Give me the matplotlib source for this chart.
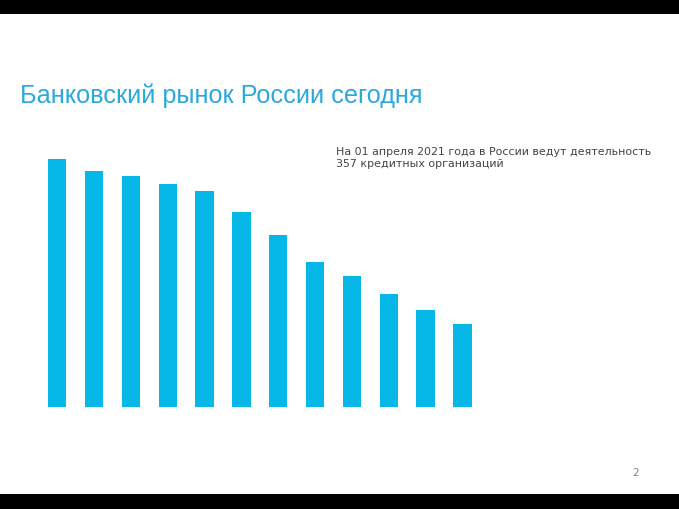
import numpy as np
import matplotlib
matplotlib.use('Agg')
import matplotlib.pyplot as plt
from matplotlib.patches import Rectangle
from matplotlib import font_manager

# number of credit organizations
years = ['2010', '2011', '2012', '2013', '2014', '2015', '2016', '2017', '2018', '2019', '2020', '2021']
banks = [1068, 1019, 997, 963, 932, 840, 741, 626, 564, 485, 419, 357]

title = "Банковский рынок России сегодня"
note = "На 01 апреля 2021 года в России ведут деятельность\n357 кредитных организаций"
page = "2"

# pick the regular (not narrow) Liberation Sans file
title_font = None
for f in font_manager.fontManager.ttflist:
    if f.name == 'Liberation Sans' and f.style == 'normal' and f.weight in (400, 'normal') \
            and 'Narrow' not in f.fname:
        title_font = font_manager.FontProperties(fname=f.fname)
        break
if title_font is None:
    title_font = font_manager.FontProperties(family='DejaVu Sans')
title_font.set_size(18.2)

W, H = 679, 509
fig = plt.figure(figsize=(W/100, H/100), dpi=100)
fig.patch.set_facecolor('white')

# black bands top and bottom
fig.patches.append(Rectangle((0, (H-14)/H), 1, 14/H, transform=fig.transFigure,
                             facecolor='black', edgecolor='none', zorder=0))
fig.patches.append(Rectangle((0, 0), 1, 15/H, transform=fig.transFigure,
                             facecolor='black', edgecolor='none', zorder=0))

ax = fig.add_axes([38.8/W, 102.3/H, 442.1/W, 247.4/H])
x = np.arange(len(banks))
ax.bar(x, banks, width=0.5, color='#05B8E8')
ax.set_xlim(-0.5, len(banks)-0.5)
ax.set_ylim(0, banks[0])
ax.axis('off')

fig.text(20.5/W, 1-96/H, title, fontproperties=title_font, color='#2BA8DC',
         va='center', ha='left')
fig.text(336.5/W, 1-158/H, note, fontsize=7.9, color='#444444',
         family='DejaVu Sans', va='center', ha='left', linespacing=1.25)
fig.text(635.5/W, 1-472.5/H, page, fontsize=7.5, color='#808080',
         family='DejaVu Sans', va='center', ha='center')

fig.savefig('out.png', dpi=100)
